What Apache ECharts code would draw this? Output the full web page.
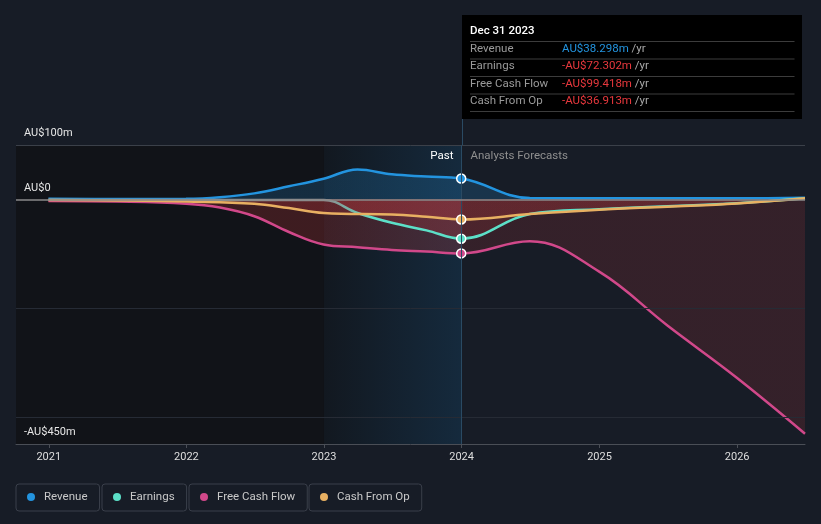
<!DOCTYPE html>
<html><head><meta charset="utf-8">
<script src="https://cdn.jsdelivr.net/npm/echarts@6/dist/echarts.min.js"></script>
<style>html,body{margin:0;padding:0;background:#171c26;}#c{width:821px;height:524px;}</style>
</head><body><div id="c"></div>
<script>
// ---- data ----
const seriesNames = ['Revenue', 'Earnings', 'Free Cash Flow', 'Cash From Op'];
const seriesColors = ['#2394df', '#5ce0c8', '#d1488a', '#e8b062'];
const revenue = [
  ['2020-12-31', 1], ['2021-06-30', 0.5], ['2021-12-31', 1], ['2022-03-31', 4], ['2022-06-30', 11],
  ['2022-09-30', 24], ['2022-12-31', 38], ['2023-03-31', 55], ['2023-06-30', 46], ['2023-09-30', 42],
  ['2023-12-31', 38.298], ['2024-06-30', 2.5], ['2024-12-31', 2], ['2025-12-31', 2], ['2026-06-30', 3]
];
const earnings = [
  ['2020-12-31', -1], ['2021-06-30', -1], ['2021-12-31', -1], ['2022-06-30', -1], ['2022-12-31', -1],
  ['2023-03-31', -25], ['2023-06-30', -43], ['2023-09-30', -57], ['2023-12-31', -72.302],
  ['2024-06-30', -27], ['2024-12-31', -18], ['2025-12-31', -7], ['2026-06-30', 2]
];
const freeCashFlow = [
  ['2020-12-31', -3], ['2021-06-30', -4], ['2021-12-31', -8], ['2022-03-31', -15], ['2022-06-30', -31],
  ['2022-09-30', -60], ['2022-12-31', -83], ['2023-03-31', -88], ['2023-06-30', -93], ['2023-09-30', -96],
  ['2023-12-31', -99.418], ['2024-06-30', -77], ['2024-12-31', -133], ['2025-06-30', -232],
  ['2025-12-31', -328], ['2026-06-30', -431]
];
const cashFromOp = [
  ['2020-12-31', -1], ['2021-06-30', -2], ['2021-12-31', -4], ['2022-06-30', -8], ['2022-09-30', -16],
  ['2022-12-31', -25], ['2023-06-30', -28], ['2023-09-30', -32], ['2023-12-31', -36.913],
  ['2024-06-30', -27], ['2024-12-31', -19], ['2025-06-30', -13.5], ['2025-12-31', -7.5], ['2026-06-30', 2]
];
const yTickLabels = { '100': 'AU$100m', '0': 'AU$0', '-450': '-AU$450m' };
const yMin = -450, yMax = 100, yStep = 50;
const gridLineValues = [100, -200, -400];
const xMin = '2020-10-06', xMax = '2026-06-30';
const pastStart = '2023-01-01', forecastStart = '2024-01-01';
const markerDate = '2023-12-31';
const tooltipTitle = 'Dec 31 2023';
const tooltipValues = ['AU$38.298m', '-AU$72.302m', '-AU$99.418m', '-AU$36.913m'];
const tooltipValueColors = ['#2394df', '#e8383d', '#e8383d', '#e8383d'];
const pastLabel = 'Past', forecastLabel = 'Analysts Forecasts';

// ---- chart ----
const FONT = 'Roboto, "Noto Sans", sans-serif';
const SMOOTH = 0.4;
const chart = echarts.init(document.getElementById('c'), null, { renderer: 'canvas' });
const allData = [revenue, earnings, freeCashFlow, cashFromOp];

function splitFill(data, rgb, aPast, aFuture) {
  const t0 = +new Date(data[0][0]), t1 = +new Date(data[data.length - 1][0]);
  const off = (+new Date(forecastStart) - t0) / (t1 - t0);
  const cp = 'rgba(' + rgb + ',' + aPast + ')', cf = 'rgba(' + rgb + ',' + aFuture + ')';
  return { type: 'linear', x: 0, y: 0, x2: 1, y2: 0, colorStops: [
    { offset: 0, color: cp }, { offset: off, color: cp }, { offset: Math.min(1, off + 0.002), color: cf }, { offset: 1, color: cf }
  ] };
}
const fillColors = [
  splitFill(revenue, '35,148,223', 0.2, 0.2),
  splitFill(earnings, '220,60,62', 0.2, 0.14),
  splitFill(freeCashFlow, '220,60,62', 0.22, 0.15),
  splitFill(cashFromOp, '220,60,62', 0.2, 0.14)
];

const earningsGradient = {
  type: 'linear', x: 0, y: 0, x2: 1, y2: 0,
  colorStops: [
    { offset: 0, color: '#8e8e8e' }, { offset: 0.37, color: '#8e8e8e' },
    { offset: 0.43, color: '#5ce0c8' }, { offset: 1, color: '#5ce0c8' }
  ]
};

function lineData(data, color) {
  return data.map(([d, v]) => d === markerDate
    ? { value: [d, v], symbol: 'circle', symbolSize: 9, itemStyle: { color: color, borderColor: '#ffffff', borderWidth: 1.5 } }
    : { value: [d, v] });
}

const series = [];
// background regions + gridlines
series.push({
  type: 'line', data: [], z: 1, silent: true,
  markArea: {
    silent: true,
    data: [
      [{ xAxis: xMin, itemStyle: { color: '#111318' } }, { xAxis: pastStart }],
      [{ xAxis: pastStart, itemStyle: { color: { type: 'linear', x: 0, y: 0, x2: 1, y2: 0, colorStops: [{ offset: 0, color: '#121820' }, { offset: 1, color: '#152a3d' }] } } }, { xAxis: forecastStart }]
    ]
  },
  markLine: {
    silent: true, symbol: ['none', 'none'], label: { show: false }, animation: false,
    data: gridLineValues.map((v, i) => ({ yAxis: v, lineStyle: { color: i === 0 ? '#3b4049' : '#262b35', width: 1, type: 'solid' } }))
      .concat([{ xAxis: forecastStart, lineStyle: { color: '#2a4a63', width: 1, type: 'solid' } }])
  }
});
// fills
allData.forEach((d, i) => {
  series.push({
    type: 'line', data: d, z: 2, silent: true, smooth: SMOOTH,
    symbol: 'none', lineStyle: { width: 0, opacity: 0 }, areaStyle: { color: fillColors[i], opacity: 1 }
  });
});
// zero line
series.push({
  type: 'line', data: [], z: 3, silent: true,
  markLine: {
    silent: true, symbol: ['none', 'none'], label: { show: false }, animation: false,
    data: [{ yAxis: 0, lineStyle: { color: '#8a8a8a', width: 1.5, type: 'solid' } }]
  }
});
// lines
allData.forEach((d, i) => {
  series.push({
    name: seriesNames[i], type: 'line', data: lineData(d, seriesColors[i]), z: 4,
    smooth: SMOOTH, symbol: 'none', showSymbol: true, showAllSymbol: true,
    color: seriesColors[i],
    lineStyle: { width: 2.5, color: i === 1 ? earningsGradient : seriesColors[i] },
    emphasis: { disabled: true }
  });
});

const legendLefts = [16, 102, 189, 309];
const legends = seriesNames.map((n, i) => ({
  data: [n], left: legendLefts[i], top: 484, orient: 'horizontal', selectedMode: false,
  icon: 'circle', itemWidth: 8, itemHeight: 8,
  borderColor: '#3a3f4a', borderWidth: 1, borderRadius: 3, padding: [6, 12, 7, 11],
  textStyle: { color: '#c9c9c9', fontSize: 11.5, fontFamily: FONT, padding: [0, 0, 0, 4], lineHeight: 14 }
}));

chart.setOption({
  animation: false,
  backgroundColor: '#171c26',
  textStyle: { fontFamily: FONT },
  grid: { left: 16, right: 16, top: 145, bottom: 80, containLabel: false },
  legend: legends,
  xAxis: {
    type: 'time', min: xMin, max: xMax, z: 10,
    minInterval: 365 * 24 * 3600 * 1000, maxInterval: 366 * 24 * 3600 * 1000,
    axisLine: { show: true, onZero: false, lineStyle: { color: '#4a4e56', width: 1 } },
    axisTick: { show: true, length: 4, lineStyle: { color: '#4a4e56' } },
    axisLabel: { color: '#dedede', fontSize: 11, fontFamily: FONT, margin: 8, formatter: '{yyyy}' },
    splitLine: { show: false }
  },
  yAxis: {
    type: 'value', min: yMin, max: yMax, interval: yStep, z: 10,
    axisLine: { show: false }, axisTick: { show: false }, splitLine: { show: false },
    axisLabel: {
      inside: true, margin: 8, color: '#e6e6e6', fontSize: 11, fontFamily: FONT,
      verticalAlign: 'bottom', padding: [0, 0, 6, 0],
      formatter: v => yTickLabels[String(v)] || ''
    }
  },
  series: series
});

// ---- overlay: tooltip box, labels ----
const px = Math.round(chart.convertToPixel({ gridIndex: 0 }, [forecastStart, 0])[0]) + 0.5;
const gridTop = chart.convertToPixel({ gridIndex: 0 }, [forecastStart, yMax])[1];
const boxTop = 15, boxW = 340, boxH = 104;
const rowYs = [49, 66.5, 84, 101.5];
const sepYs = [41, 58.5, 76, 93.5, 111];
const g = [];
g.push({ type: 'line', shape: { x1: px, y1: boxTop + boxH, x2: px, y2: gridTop }, style: { stroke: '#2a4a63', lineWidth: 1 }, silent: true });
g.push({ type: 'rect', shape: { x: px - 0.5, y: boxTop, width: boxW, height: boxH }, style: { fill: '#000000' }, silent: true });
g.push({ type: 'text', x: px + 7.5, y: 31, style: { text: tooltipTitle, fill: '#ffffff', font: '500 11.5px ' + FONT, verticalAlign: 'middle' } });
sepYs.forEach(y => g.push({ type: 'line', shape: { x1: px + 7.5, y1: y + 0.5, x2: px + 332, y2: y + 0.5 }, style: { stroke: '#3c3c3c', lineWidth: 1 } }));
seriesNames.forEach((n, i) => {
  g.push({ type: 'text', x: px + 7.5, y: rowYs[i], style: { text: n, fill: '#9a9a9a', font: '11.5px ' + FONT, verticalAlign: 'middle' } });
  g.push({
    type: 'text', x: px + 99.5, y: rowYs[i],
    style: {
      text: '{v|' + tooltipValues[i] + '}{u| /yr}', verticalAlign: 'middle',
      rich: { v: { fill: tooltipValueColors[i], font: '11.5px ' + FONT }, u: { fill: '#a8a8a8', font: '11.5px ' + FONT } }
    }
  });
});
g.push({ type: 'text', x: px - 9, y: 156, style: { text: pastLabel, fill: '#ffffff', font: '11.5px ' + FONT, align: 'right', verticalAlign: 'middle' } });
g.push({ type: 'text', x: px + 8, y: 156, style: { text: forecastLabel, fill: '#8f8f8f', font: '11.5px ' + FONT, verticalAlign: 'middle' } });
chart.setOption({ graphic: g.map(e => Object.assign({ silent: true, z: 100 }, e)) });
</script></body></html>
